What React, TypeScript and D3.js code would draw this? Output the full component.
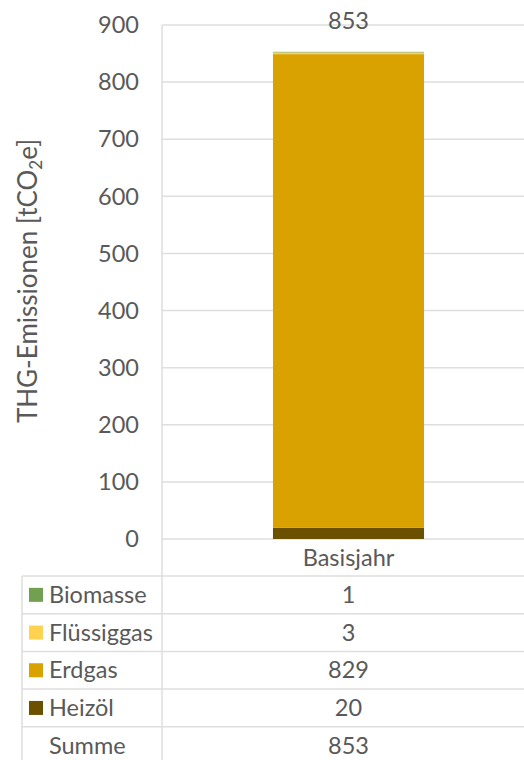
import * as React from "react"
import * as d3 from "d3"

const category = "Basisjahr"
const seriesNames = ["Heizöl", "Erdgas", "Flüssiggas", "Biomasse"]
const seriesValues = [20, 829, 3, 1]
const seriesColors = ["#6b5000", "#d9a200", "#ffd24f", "#70a050"]
const tableOrder = ["Biomasse", "Flüssiggas", "Erdgas", "Heizöl"]
const yTicks = [0, 100, 200, 300, 400, 500, 600, 700, 800, 900]

const W = 524
const H = 760
const grid = "#dedede"
const textColor = "#595959"
const font = "Lato, 'Open Sans', sans-serif"
const fs = 23.5

export default function App() {
  React.useEffect(() => {
    document.body.style.margin = "0"
  }, [])

  const total = d3.sum(seriesValues)
  const y = d3.scaleLinear().domain([0, 900]).range([539, 25])
  const x = d3.scaleBand<string>().domain([category]).range([162, 535]).paddingInner(0.4235).paddingOuter(0.4235)
  const rows = d3.scaleBand<string>().domain([...tableOrder, "Summe"]).range([576, 764.5])

  const stack = d3
    .stack<Record<string, number>>()
    .keys(seriesNames)([Object.fromEntries(seriesNames.map((n, i) => [n, seriesValues[i]]))])

  const bx = x(category) ?? 0
  const bw = x.bandwidth()
  const cx = bx + bw / 2

  return (
    <svg width={W} height={H} style={{ display: "block", fontFamily: font }}>
      <rect width={W} height={H} fill="#fff" />
      {/* gridlines */}
      {yTicks.map((t) => (
        <line key={t} x1={162} x2={W} y1={y(t)} y2={y(t)} stroke={grid} strokeWidth={1.5} />
      ))}
      <line x1={162} x2={162} y1={y(900)} y2={H} stroke={grid} strokeWidth={1.5} />
      {/* y tick labels */}
      {yTicks.map((t) => (
        <text key={t} x={139} y={y(t)} dy="0.35em" textAnchor="end" fontSize={fs} fill={textColor}>
          {t}
        </text>
      ))}
      {/* y label */}
      <text
        transform={`translate(37,${281}) rotate(-90)`}
        textAnchor="middle"
        fontSize={26}
        fill={textColor}
      >
        THG-Emissionen [tCO<tspan fontSize={17} dy={5}>2</tspan>
        <tspan dy={-5}>e]</tspan>
      </text>
      {/* stacked bar */}
      {stack.map((s, i) => (
        <rect
          key={s.key}
          x={bx}
          width={bw}
          y={y(s[0][1])}
          height={y(s[0][0]) - y(s[0][1])}
          fill={seriesColors[i]}
        />
      ))}
      <text x={cx} y={y(total) - 31} dy="0.35em" textAnchor="middle" fontSize={fs} fill={textColor}>
        {total}
      </text>
      {/* category label */}
      <text x={cx} y={(539 + 576) / 2} dy="0.35em" textAnchor="middle" fontSize={fs} fill={textColor}>
        {category}
      </text>
      {/* data table */}
      {rows.domain().map((r) => (
        <line key={r} x1={22} x2={W} y1={rows(r)} y2={rows(r)} stroke={grid} strokeWidth={1.5} />
      ))}
      <line x1={22} x2={22} y1={576} y2={H} stroke={grid} strokeWidth={1.5} />
      {rows.domain().map((r) => {
        const ry = (rows(r) ?? 0) + rows.bandwidth() / 2
        const idx = seriesNames.indexOf(r)
        const val = idx >= 0 ? seriesValues[idx] : total
        return (
          <g key={r}>
            {idx >= 0 && <rect x={29} y={ry - 7} width={14} height={14} fill={seriesColors[idx]} />}
            <text x={49} y={ry} dy="0.35em" fontSize={fs} fill={textColor}>
              {r}
            </text>
            <text x={cx} y={ry} dy="0.35em" textAnchor="middle" fontSize={fs} fill={textColor}>
              {val}
            </text>
          </g>
        )
      })}
    </svg>
  )
}
